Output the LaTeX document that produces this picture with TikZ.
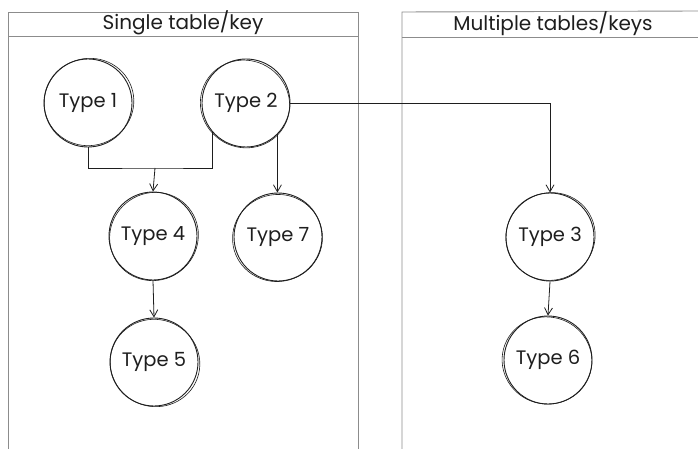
\documentclass[tikz,border=0pt]{standalone}
\usepackage{fontspec}
\setmainfont{Poppins}
\usetikzlibrary{arrows.meta,calc}

\definecolor{ink}{HTML}{1E1E1E}
\definecolor{frame}{HTML}{8C8C8C}

\tikzset{
  typenode/.style={circle, draw=ink, line width=0.9pt, minimum size=88pt,
    inner sep=0pt, font=\fontsize{19.5}{22}\selectfont, text=ink},
  sketch/.style={draw=ink, line width=0.6pt},
  link/.style={draw=ink, line width=0.8pt},
  arrowlink/.style={link, -{Straight Barb[length=7pt,width=8pt]}},
  panel/.style={draw=frame, line width=0.9pt},
  paneltitle/.style={font=\fontsize{20}{23}\selectfont, text=ink}
}

\begin{document}
\begin{tikzpicture}[x=1pt, y=-1pt]
  \useasboundingbox (0,0) rectangle (698,449);

  % left panel: single table/key
  \draw[panel] (8,449) -- (8,12) -- (358,12) -- (358,449);
  \draw[panel] (8,36) -- (358,36);
  \node[paneltitle] (lefttitle) at (183,23) {Single table/key};

  % right panel: multiple tables/keys (runs off the right edge)
  \draw[panel] (402,449) -- (402,12) -- (698,11);
  \draw[panel] (402,37) -- (698,37);
  \node[paneltitle] (righttitle) at (553,24) {Multiple tables/keys};

  % type nodes
  \node[typenode] (t1) at (88,103)  {Type 1};
  \node[typenode] (t2) at (246,103) {Type 2};
  \node[typenode] (t4) at (153,236) {Type 4};
  \node[typenode] (t7) at (278,237) {Type 7};
  \node[typenode] (t5) at (154,362) {Type 5};
  \node[typenode] (t3) at (550,237) {Type 3};
  \node[typenode] (t6) at (548,360) {Type 6};

  % second, slightly offset stroke for a sketched outline
  \foreach \n/\dx/\dy/\rot in {t1/1/-1/20, t2/-1/1/-30, t4/1/0.5/40, t7/-0.5/1/10,
                                t5/1/1/-20, t3/0.5/-0.5/30, t6/-1/0.5/-15}
    \draw[sketch] ($(\n.center)+(\dx,\dy)$) ellipse [x radius=45, y radius=43.5, rotate=\rot];

  % connectors
  \coordinate (join) at (155,168);
  \draw[link] (t1.south) |- (join) -| (t2.-139);
  \draw[arrowlink] (join) -- (t4.north);
  \draw[arrowlink] (t2.-45) -- (t2.-45 |- t7.north);
  \draw[arrowlink] (t2.east) -| (t3.north);
  \draw[arrowlink] (t4.south) -- (t5.north);
  \draw[arrowlink] (t3.south) -- (t6.north);
\end{tikzpicture}
\end{document}
